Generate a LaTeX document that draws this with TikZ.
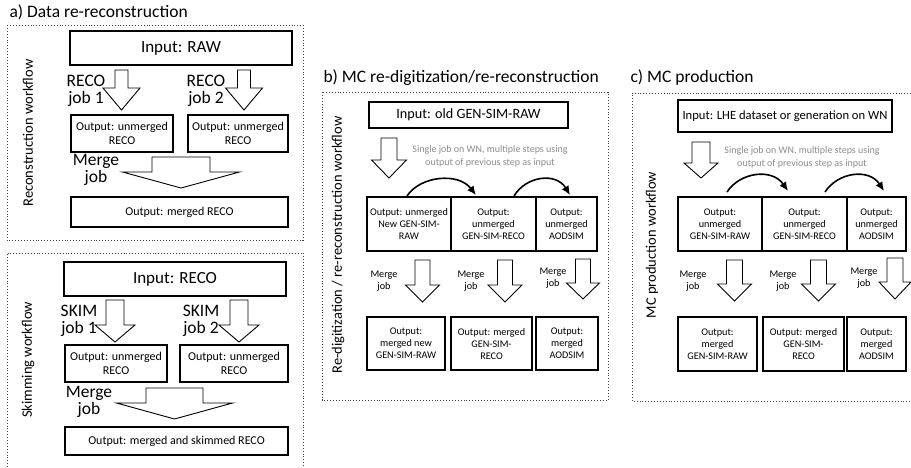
\documentclass[tikz,border=0pt]{standalone}
\usepackage{fontspec}
\setmainfont{Carlito}
\usetikzlibrary{positioning, arrows, arrows.meta}

% big hollow arrow: centre x, top, shaft half width, head y, head half width, tip
\newcommand{\blockarrow}[6]{%
  \draw[hollowarr] ({#1-#3},#2) -- ({#1+#3},#2) -- ({#1+#3},#4) -- ({#1+#5},#4)
    -- (#1,#6) -- ({#1-#5},#4) -- ({#1-#3},#4) -- cycle;}

\begin{document}
\begin{tikzpicture}[x=1pt, y=-1pt,
    panel/.style={draw=black!75, line width=0.9pt, dotted},
    box/.style={draw, line width=1.1pt, align=center, inner sep=1pt, outer sep=0pt},
    hollowarr/.style={draw, line width=0.9pt, fill=white},
    hop/.style={line width=1.6pt, -{Latex[length=9pt,width=8pt]}},
    ttl/.style={anchor=west, font=\fontsize{17.5}{19}\selectfont},
    side/.style={rotate=90, font=\fontsize{14.5}{16}\selectfont},
    big/.style={font=\fontsize{17.5}{19}\selectfont},
    mid/.style={font=\fontsize{12}{14}\selectfont},
    small/.style={font=\fontsize{10.2}{12}\selectfont},
    note/.style={align=center, text=black!45, font=\fontsize{10}{13}\selectfont}]
  \useasboundingbox (0,0) rectangle (911,467);

  % a) upper part
  \node[ttl] (atitle) at (6,12) {a) Data re-reconstruction};
  \draw[panel] (7,25) rectangle (303,240);
  \node[side] (alabel) at (28,133) {Reconstruction workflow};
  \node[box, font=\fontsize{17}{19}\selectfont, minimum width=222pt, minimum height=34pt] (rawin) at (181,48) {Input: RAW};
  \blockarrow{121.5}{70}{6.5}{88}{18.5}{110}
  \blockarrow{244}{70}{6.5}{88}{18.5}{110}
  \node[big, align=center] (recoa) at (86,91) {RECO\\[-2pt]job 1};
  \node[big, align=center] (recob) at (206,91) {RECO\\[-2pt]job 2};
  \node[box, mid, minimum width=102pt, minimum height=37pt] (rout1) at (122,133.5) {Output: unmerged\\RECO};
  \node[box, mid, minimum width=100pt, minimum height=37pt] (rout2) at (238,133.5) {Output: unmerged\\RECO};
  \blockarrow{181}{157}{29}{172}{58.5}{188}
  \node[big, align=center] (rmerge) at (96,170) {Merge\\[-2pt]job};
  \node[box, mid, minimum width=217pt, minimum height=30pt] (rfinal) at (179.5,212) {Output: merged RECO};

  % a) lower part
  \draw[panel] (7,467) -- (7,253) -- (303,253) -- (303,467);
  \node[side] (slabel) at (28,360) {Skimming workflow};
  \node[box, font=\fontsize{17}{19}\selectfont, minimum width=222pt, minimum height=34pt] (skimin) at (175,279) {Input: RECO};
  \blockarrow{115}{300}{9}{325}{20}{342}
  \blockarrow{239}{300}{9}{325}{20}{342}
  \node[big, align=center] (skima) at (79,321) {SKIM\\[-2pt]job 1};
  \node[big, align=center] (skimb) at (201,321) {SKIM\\[-2pt]job 2};
  \node[box, mid, minimum width=102pt, minimum height=37pt] (sout1) at (116,363.5) {Output: unmerged\\RECO};
  \node[box, mid, minimum width=108pt, minimum height=37pt] (sout2) at (234,363.5) {Output: unmerged\\RECO};
  \blockarrow{174.5}{388}{28.5}{403}{58}{419}
  \node[big, align=center] (smerge) at (89,402) {Merge\\[-2pt]job};
  \node[box, mid, minimum width=223pt, minimum height=28pt] (sfinal) at (176.5,441) {Output: merged and skimmed RECO};

  % b) MC re-digitization
  \node[ttl] (btitle) at (320,78) {b) MC re-digitization/re-reconstruction};
  \draw[panel] (322,92) rectangle (608,400);
  \node[side] (blabel) at (338,245) {Re-digitization / re-reconstruction workflow};
  \node[box, font=\fontsize{14.2}{16}\selectfont, minimum width=199pt, minimum height=26pt] (oldin) at (468.5,115) {Input: old GEN-SIM-RAW};
  \blockarrow{389}{138}{8}{160}{17.5}{178}
  \node[note] (bnote) at (490,156) {Single job on WN, multiple steps using\\output of previous step as input};
  \node[box, small, minimum width=84pt, minimum height=54pt] (bu1) at (409,224) {Output: unmerged\\New GEN-SIM-\\RAW};
  \node[box, small, minimum width=85pt, minimum height=54pt] (bu2) at (493.5,224) {Output:\\unmerged\\GEN-SIM-RECO};
  \node[box, small, minimum width=61pt, minimum height=54pt] (bu3) at (566.5,224) {Output:\\unmerged\\AODSIM};
  \coordinate (bs1) at (407,196);
  \coordinate (be1) at (476,195);
  \coordinate (bs2) at (514,196);
  \coordinate (be2) at (570,195);
  \draw[hop] (bs1) .. controls (420,176) and (458,172) .. (be1);
  \draw[hop] (bs2) .. controls (526,176) and (556,172) .. (be2);
  \blockarrow{422.5}{260}{7.5}{285}{17}{302}
  \blockarrow{505}{260}{7.5}{285}{17}{302}
  \blockarrow{583}{259}{7.5}{283}{16.5}{299}
  \node[small, align=center] (bm1) at (384,281) {Merge\\job};
  \node[small, align=center] (bm2) at (471,281) {Merge\\job};
  \node[small, align=center] (bm3) at (553,278) {Merge\\job};
  \node[box, small, minimum width=78pt, minimum height=53pt] (bo1) at (406,343.5) {Output:\\merged new\\GEN-SIM-RAW};
  \node[box, small, minimum width=81pt, minimum height=53pt] (bo2) at (491.5,343.5) {Output: merged\\GEN-SIM-\\RECO};
  \node[box, small, minimum width=62pt, minimum height=53pt] (bo3) at (567,343.5) {Output:\\merged\\AODSIM};

  % c) MC production
  \node[ttl] (ctitle) at (627,78) {c) MC production};
  \draw[panel] (911,93) -- (632,93) -- (632,401) -- (911,401);
  \node[side] (clabel) at (652,245) {MC production workflow};
  \node[box, font=\fontsize{12.6}{14}\selectfont, minimum width=214pt, minimum height=32pt] (lhein) at (785,116) {Input: LHE dataset or generation on WN};
  \blockarrow{701}{142}{9}{163}{17}{178}
  \node[note] (cnote) at (802,157) {Single job on WN, multiple steps using\\output of previous step as input};
  \node[box, small, minimum width=84pt, minimum height=54pt] (cu1) at (720,224) {Output:\\unmerged\\GEN-SIM-RAW};
  \node[box, small, minimum width=85pt, minimum height=54pt] (cu2) at (804.5,224) {Output:\\unmerged\\GEN-SIM-RECO};
  \node[box, small, minimum width=59pt, minimum height=54pt] (cu3) at (876.5,224) {Output:\\unmerged\\AODSIM};
  \coordinate (cs1) at (727,192);
  \coordinate (ce1) at (788,191);
  \coordinate (cs2) at (825,192);
  \coordinate (ce2) at (884,191);
  \draw[hop] (cs1) .. controls (740,172) and (772,168) .. (ce1);
  \draw[hop] (cs2) .. controls (838,172) and (869,168) .. (ce2);
  \blockarrow{734.5}{260}{8}{284}{17}{301}
  \blockarrow{818.5}{260}{8}{284}{17}{301}
  \blockarrow{895}{258}{8}{282}{16}{299}
  \node[small, align=center] (cm1) at (693,281) {Merge\\job};
  \node[small, align=center] (cm2) at (783,281) {Merge\\job};
  \node[small, align=center] (cm3) at (864,278) {Merge\\job};
  \node[box, small, minimum width=79pt, minimum height=54pt] (co1) at (717.5,344) {Output:\\merged\\GEN-SIM-RAW};
  \node[box, small, minimum width=81pt, minimum height=54pt] (co2) at (803.5,344) {Output: merged\\GEN-SIM-\\RECO};
  \node[box, small, minimum width=59pt, minimum height=54pt] (co3) at (876.5,344) {Output:\\merged\\AODSIM};
\end{tikzpicture}
\end{document}
